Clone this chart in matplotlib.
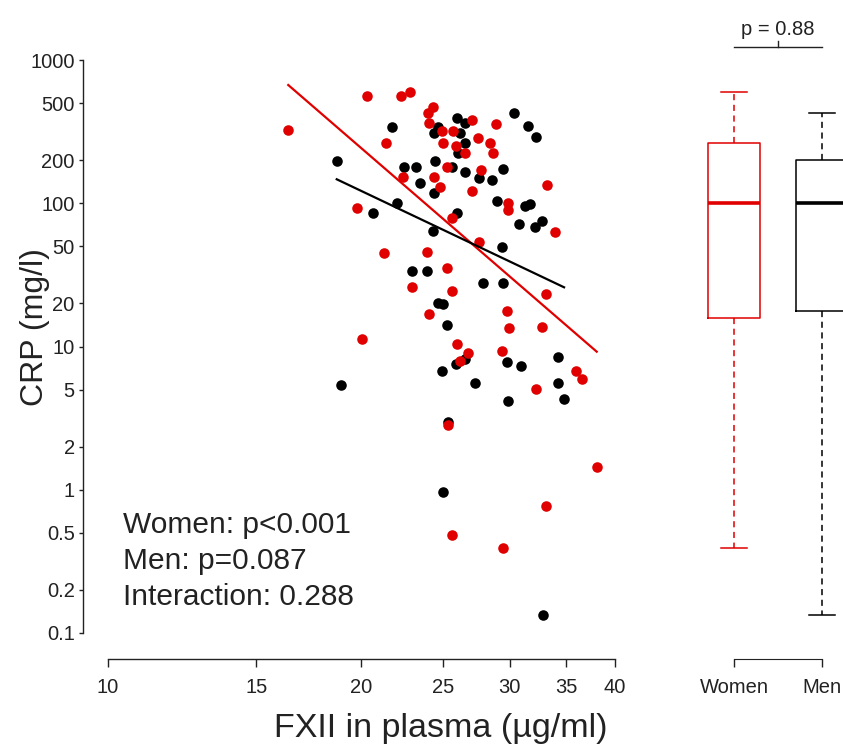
import matplotlib
matplotlib.use("Agg")
import matplotlib.pyplot as plt

plt.rcParams['font.family'] = ['Liberation Sans', 'DejaVu Sans']

# FXII (ug/ml) and CRP (mg/l) per patient
women_fxii = [20.29, 22.26, 22.84, 16.37, 24.30, 24.01, 24.05, 24.95, 25.67, 24.97,
              25.90, 21.39, 25.25, 22.42, 24.39, 24.79, 19.77, 25.60, 21.27, 23.94,
              27.08, 28.86, 27.53, 28.42, 28.63, 26.54, 27.73, 27.04, 29.87, 29.87,
              33.24, 33.95, 27.60, 25.29, 22.98, 25.62, 24.05, 20.01, 25.95, 26.18,
              26.74, 25.32, 33.10, 29.80, 29.94, 32.73, 29.34, 35.95, 36.51, 32.23,
              38.05, 33.10, 25.64, 29.42]
women_crp = [563, 563, 595, 325, 468, 429, 365, 319, 319, 265,
             251, 265, 180, 152, 152, 129, 93.1, 79.3, 44.7, 45.9,
             381, 356, 284, 262, 223, 223, 171, 122, 99.9, 89.7,
             134, 62.7, 53.9, 35.5, 25.9, 24.5, 16.9, 11.2, 10.4, 7.92,
             8.96, 2.83, 23.3, 17.7, 13.5, 13.6, 9.3, 6.75, 5.90, 5.05,
             1.45, 0.77, 0.483, 0.39]

men_fxii = [25.99, 21.73, 24.67, 24.39, 26.54, 26.18, 26.06, 26.54, 18.69, 24.45,
            22.48, 23.22, 25.64, 26.54, 23.47, 24.41, 22.02, 20.65, 25.99, 24.34,
            30.34, 31.50, 32.23, 27.58, 28.55, 29.42, 28.99, 31.27, 31.70, 30.79,
            32.14, 32.73, 29.34, 22.98, 23.94, 24.67, 24.97, 25.25, 24.95, 25.90,
            26.54, 18.89, 25.32, 27.91, 29.42, 29.80, 30.94, 27.28, 34.25, 34.25,
            34.80, 29.87, 24.97, 32.82]
men_crp = [392, 339, 342, 311, 361, 308, 223, 262, 197, 198,
           178, 178, 178, 165, 139, 118, 99.9, 85.9, 85.9, 64.0,
           429, 348, 289, 149, 145, 173, 104, 95.7, 98.3, 71.3,
           68.6, 75.5, 49.7, 33.8, 33.8, 20.2, 19.8, 14.1, 6.78, 7.51,
           8.14, 5.38, 2.99, 27.9, 27.9, 7.76, 7.35, 5.59, 8.41, 5.59,
           4.30, 4.18, 0.97, 0.134]

# fitted regression lines (log-log), end points
women_fit_x = [16.37, 38.05]
women_fit_y = [669, 9.2]
men_fit_x = [18.69, 34.8]
men_fit_y = [147, 25.9]

# box plot summaries of CRP by sex
box_labels = ["Women", "Men"]
box_whislo = [0.39, 0.134]
box_q1 = [15.8, 17.7]
box_med = [101, 100]
box_q3 = [265, 200]
box_whishi = [595, 429]

stats_lines = ["Women: p<0.001", "Men: p=0.087", "Interaction: 0.288"]
p_text = "p = 0.88"

x_ticks = [10, 15, 20, 25, 30, 35, 40]
y_ticks = [0.1, 0.2, 0.5, 1, 2, 5, 10, 20, 50, 100, 200, 500, 1000]
y_ticklabels = ["0.1", "0.2", "0.5", "1", "2", "5", "10", "20", "50", "100", "200", "500", "1000"]

RED = "#e00000"
INK = "#222222"

fig = plt.figure(figsize=(8.43, 7.49), dpi=100)

# scatter panel
ax = fig.add_axes([108 / 843, 116 / 749, 507 / 843, 573 / 749])
ax.set_xscale("log")
ax.set_yscale("log")
ax.set_xlim(10, 40)
ax.set_ylim(0.1, 1000)

ax.plot(men_fxii, men_crp, "o", color="black", ms=7.6, mew=0, clip_on=False)
ax.plot(women_fxii, women_crp, "o", color=RED, ms=7.6, mew=0, clip_on=False)
ax.plot(women_fit_x, women_fit_y, color=RED, lw=1.6)
ax.plot(men_fit_x, men_fit_y, color="black", lw=1.6)

for s in ["top", "right"]:
    ax.spines[s].set_visible(False)
ax.spines["left"].set_position(("outward", 18))
ax.spines["bottom"].set_position(("outward", 18.7))
ax.spines["left"].set_bounds(0.1, 1000)
ax.spines["bottom"].set_bounds(10, 40)
for s in ["left", "bottom"]:
    ax.spines[s].set_color(INK)
    ax.spines[s].set_linewidth(1.0)

ax.xaxis.set_minor_locator(matplotlib.ticker.NullLocator())
ax.yaxis.set_minor_locator(matplotlib.ticker.NullLocator())
ax.set_xticks(x_ticks)
ax.set_xticklabels([str(t) for t in x_ticks])
ax.set_yticks(y_ticks)
ax.set_yticklabels(y_ticklabels)
ax.tick_params(axis="x", length=6, width=1.0, color=INK, labelsize=14.5, pad=8, labelcolor=INK)
ax.tick_params(axis="y", length=3, width=1.0, color=INK, labelsize=14.5, pad=3, labelcolor=INK)

for i, line in enumerate(stats_lines):
    fig.text(123 / 843, 1 - (525 + 36 * i) / 749, line, fontsize=21.5,
             color=INK, ha="left", va="center")

fig.text(35 / 843, 1 - 327 / 749, "CRP (mg/l)", rotation=90, fontsize=23,
         color=INK, ha="center", va="center")
fig.text(441 / 843, 1 - 728 / 749, "FXII in plasma (\u00b5g/ml)", fontsize=24.5,
         color=INK, ha="center", va="center")

# box plot panel: position 1 at 734 px, position 2 at 822 px
bx = fig.add_axes([690 / 843, 116 / 749, 176 / 843, 573 / 749])
bx.set_yscale("log")
bx.set_ylim(0.1, 1000)
bx.set_xlim(0.5, 2.5)

colors = [RED, "black"]
for i in range(len(box_labels)):
    st = [{"label": box_labels[i], "whislo": box_whislo[i], "q1": box_q1[i],
           "med": box_med[i], "q3": box_q3[i], "whishi": box_whishi[i]}]
    c = colors[i]
    bx.bxp(st, positions=[i + 1], widths=0.59, showfliers=False,
           boxprops=dict(color=c, lw=1.1),
           medianprops=dict(color=c, lw=2.6),
           whiskerprops=dict(color=c, lw=1.1, linestyle=(0, (4, 3))),
           capprops=dict(color=c, lw=1.1),
           capwidths=0.3, manage_ticks=False)

for s in ["top", "right", "left"]:
    bx.spines[s].set_visible(False)
bx.spines["bottom"].set_position(("outward", 18.7))
bx.spines["bottom"].set_bounds(1, 2)
bx.spines["bottom"].set_color(INK)
bx.set_yticks([])
bx.yaxis.set_minor_locator(matplotlib.ticker.NullLocator())
bx.set_xticks([1, 2])
bx.set_xticklabels(box_labels)
bx.tick_params(axis="x", length=6, width=1.0, color=INK, labelsize=14.5, pad=8, labelcolor=INK)

# comparison bracket with p-value
tr = bx.get_xaxis_transform()
bx.plot([1, 2], [1.022, 1.022], color=INK, lw=1.0, transform=tr, clip_on=False)
bx.plot([1.5, 1.5], [1.022, 1.033], color=INK, lw=1.0, transform=tr, clip_on=False)
bx.text(1.5, 1.054, p_text, transform=tr, fontsize=14.5, color=INK,
        ha="center", va="center")

fig.savefig("out.png", dpi=100, facecolor="white")
